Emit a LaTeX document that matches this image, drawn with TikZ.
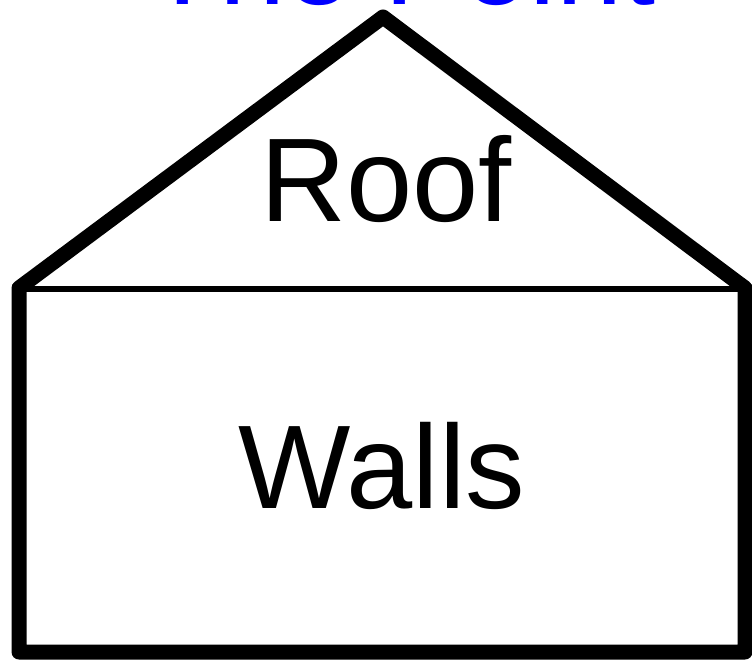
\documentclass[tikz,border=0pt]{standalone}
\usepackage{fontspec}
\setmainfont{Liberation Sans}
\usepackage{tikz}
\tikzstyle{outline} = [line width=15pt, line join=round, line cap=round]
\tikzstyle{label} = [font=\fontsize{119}{130}\selectfont, anchor=base, inner sep=0pt]

\begin{document}
\begin{tikzpicture}[x=1pt,y=-1pt]
\useasboundingbox (0,0) rectangle (752,660);
\node[label, text=blue] (title) at (401,5) {The Point};
\draw[outline] (19,288) -- (383,17) -- (745,288) -- (745,652) -- (19,652) -- cycle;
\draw[line width=6pt] (19,289.5) -- (745,289.5);
\node[label] (roof) at (386,222) {Roof};
\node[label] (walls) at (382,508) {Walls};
\end{tikzpicture}
\end{document}
